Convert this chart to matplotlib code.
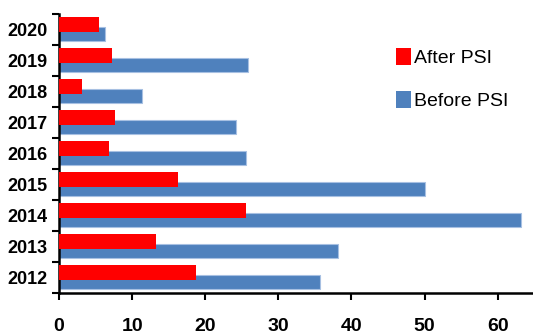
import numpy as np
import matplotlib.pyplot as plt
from matplotlib.patches import Patch

# PSI values by year
years = ["2012", "2013", "2014", "2015", "2016", "2017", "2018", "2019", "2020"]
after_psi = [18.8, 13.3, 25.6, 16.3, 6.8, 7.7, 3.2, 7.2, 5.5]
before_psi = [35.7, 38.1, 63.2, 50.0, 25.6, 24.2, 11.3, 25.8, 6.3]

plt.rcParams['font.family'] = ['Liberation Sans', 'DejaVu Sans']

fig = plt.figure(figsize=(5.33, 3.36), dpi=100)
ax = fig.add_axes([59 / 533, 43 / 336, 473 / 533, 279 / 336])

y = np.arange(len(years))

ax.barh(y - 0.145, before_psi, height=0.45, color='#4F81BD',
        edgecolor='#a7c0e2', linewidth=0.8, zorder=2)
ax.barh(y + 0.16, after_psi, height=0.48, color='#FF0000',
        linewidth=0, zorder=3)

ax.set_xlim(0, 64.7)
ax.set_ylim(-0.5, len(years) - 0.5)

# category boundaries get the tick marks, labels sit in between
ax.set_yticks(np.arange(-0.5, len(years), 1.0))
ax.set_yticklabels([])
ax.set_yticks(y, minor=True)
ax.set_yticklabels(years, minor=True, fontsize=13, fontweight='bold')
ax.tick_params(axis='y', which='minor', length=0, pad=8)
ax.tick_params(axis='y', which='major', direction='out', length=5, width=1.5)

ax.set_xticks([0, 10, 20, 30, 40, 50, 60])
ax.tick_params(axis='x', direction='out', length=5, width=1.5, pad=13,
               labelsize=14)
for lbl in ax.get_xticklabels():
    lbl.set_fontweight('bold')

for s in ['top', 'right']:
    ax.spines[s].set_visible(False)
for s in ['left', 'bottom']:
    ax.spines[s].set_linewidth(1.8)

handles = [Patch(facecolor='#FF0000', label='After PSI'),
           Patch(facecolor='#4F81BD', label='Before PSI')]
ax.legend(handles=handles, loc='upper left', bbox_to_anchor=(388 / 533, 1 - 40 / 336),
          bbox_transform=fig.transFigure, frameon=False, fontsize=14,
          handlelength=0.8, handleheight=0.95, handletextpad=0.15,
          labelspacing=1.25, borderaxespad=0)

fig.savefig('out.png', dpi=100)
